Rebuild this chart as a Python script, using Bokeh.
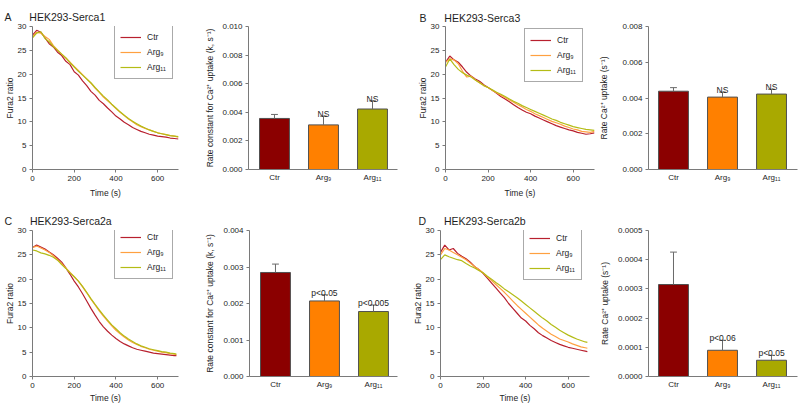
from bokeh.plotting import figure
from bokeh.layouts import column, row
from bokeh.models import Label, Legend, LegendItem, FixedTicker, NumeralTickFormatter, Range1d
from bokeh.embed import file_html
from bokeh.resources import INLINE

FONT = "Liberation Sans"

# ---------------- data ----------------
time_ab = [0, 20, 40, 60, 80, 100, 120, 140, 160, 180, 200, 220, 240, 260, 280, 300, 320, 340,
           360, 380, 400, 420, 440, 460, 480, 500, 520, 540, 560, 580, 600, 620, 640, 660, 680, 700]
time_cd = [0, 20, 40, 60, 80, 100, 120, 140, 160, 180, 200, 220, 240, 260, 280, 300, 320, 340,
           360, 380, 400, 420, 440, 460, 480, 500, 520, 540, 560, 580, 600, 620, 640, 660, 680, 690]

serca1_ctr = [28.2, 29.2, 28.8, 27.6, 26.4, 25.7, 24.6, 23.9, 22.7, 22.0, 20.5, 19.8, 18.6, 17.6, 16.4, 15.6, 14.5, 13.8,
              12.9, 12.1, 11.2, 10.6, 9.9, 9.4, 8.8, 8.4, 8.0, 7.7, 7.4, 7.2, 7.0, 6.9, 6.8, 6.6, 6.5, 6.4]
serca1_arg9 = [27.8, 28.8, 28.6, 27.9, 27.3, 26.0, 25.1, 24.2, 23.4, 22.5, 21.6, 20.8, 19.9, 19.0, 18.1, 17.1, 16.2, 15.2,
               14.4, 13.6, 12.8, 12.0, 11.3, 10.6, 10.0, 9.4, 9.0, 8.6, 8.3, 8.0, 7.7, 7.5, 7.3, 7.1, 7.0, 6.8]
serca1_arg11 = [27.6, 28.6, 28.9, 27.5, 26.8, 25.8, 25.0, 24.2, 23.4, 22.4, 21.5, 20.6, 19.8, 19.0, 18.2, 17.2, 16.3, 15.4,
                14.6, 13.7, 12.9, 12.1, 11.4, 10.7, 10.1, 9.6, 9.1, 8.7, 8.3, 8.0, 7.7, 7.5, 7.3, 7.1, 7.0, 6.9]

serca3_ctr = [22.5, 23.8, 23.0, 22.5, 21.5, 20.4, 19.6, 19.0, 18.5, 17.8, 17.2, 16.6, 16.0, 15.3, 14.8, 14.2, 13.6, 13.0,
              12.5, 12.0, 11.7, 11.2, 10.8, 10.4, 10.0, 9.6, 9.2, 8.9, 8.6, 8.3, 8.1, 7.8, 7.6, 7.4, 7.5, 7.7]
serca3_arg9 = [22.5, 23.2, 23.0, 22.2, 20.6, 19.4, 19.6, 18.8, 18.2, 17.6, 17.2, 16.6, 16.1, 15.6, 15.1, 14.6, 14.1, 13.6,
               13.1, 12.6, 12.2, 11.7, 11.3, 10.9, 10.5, 10.1, 9.8, 9.5, 9.1, 8.8, 8.5, 8.3, 8.0, 7.9, 7.8, 8.0]
serca3_arg11 = [21.5, 23.2, 22.0, 21.0, 20.3, 19.8, 19.4, 18.8, 18.2, 17.6, 17.2, 16.7, 16.2, 15.8, 15.3, 14.8, 14.3, 13.9,
                13.4, 13.0, 12.6, 12.2, 11.8, 11.4, 11.0, 10.6, 10.3, 9.9, 9.6, 9.3, 9.0, 8.8, 8.6, 8.4, 8.3, 8.2]

serca2a_ctr = [26.5, 27.0, 26.6, 26.2, 25.6, 25.0, 24.3, 23.5, 22.3, 21.0, 19.6, 18.4, 17.0, 15.5, 14.0, 12.6, 11.3, 10.2,
               9.3, 8.5, 7.8, 7.2, 6.7, 6.3, 5.9, 5.6, 5.4, 5.2, 5.0, 4.8, 4.7, 4.6, 4.5, 4.4, 4.3, 4.3]
serca2a_arg9 = [26.5, 26.8, 26.4, 26.0, 25.5, 24.8, 24.0, 23.2, 22.3, 21.4, 20.5, 19.6, 18.4, 17.2, 15.9, 14.7, 13.5, 12.4,
                11.4, 10.4, 9.5, 8.8, 8.1, 7.5, 7.0, 6.6, 6.2, 5.9, 5.6, 5.4, 5.2, 5.0, 4.9, 4.7, 4.6, 4.5]
serca2a_arg11 = [26.0, 25.8, 25.4, 25.2, 24.9, 24.5, 23.9, 23.0, 22.2, 21.3, 20.5, 19.6, 18.5, 17.3, 16.0, 14.8, 13.7, 12.6,
                 11.6, 10.6, 9.8, 9.0, 8.3, 7.7, 7.2, 6.7, 6.3, 6.0, 5.7, 5.5, 5.3, 5.1, 5.0, 4.8, 4.7, 4.6]

serca2b_ctr = [25.5, 27.0, 26.0, 26.3, 25.3, 24.7, 24.2, 23.5, 22.6, 22.0, 21.2, 20.2, 19.2, 18.2, 17.2, 16.2, 15.0, 14.0,
               13.0, 12.0, 11.4, 10.5, 9.8, 9.0, 8.4, 7.9, 7.4, 7.0, 6.6, 6.3, 6.0, 5.8, 5.6, 5.4, 5.2, 5.1]
serca2b_arg9 = [25.0, 26.3, 26.0, 25.5, 25.0, 24.5, 24.0, 23.3, 22.6, 22.0, 21.3, 20.5, 19.7, 18.9, 18.1, 17.3, 16.4, 15.5,
                14.6, 13.8, 13.0, 12.2, 11.4, 10.6, 9.9, 9.3, 8.7, 8.2, 7.7, 7.4, 7.1, 6.7, 6.4, 6.1, 5.9, 5.8]
serca2b_arg11 = [24.0, 25.0, 24.6, 24.3, 24.0, 23.8, 23.2, 22.7, 22.3, 21.8, 21.3, 20.6, 20.0, 19.3, 18.7, 18.0, 17.4, 16.8,
                 16.2, 15.5, 14.8, 14.1, 13.4, 12.7, 12.0, 11.4, 10.7, 10.1, 9.5, 9.0, 8.5, 8.1, 7.7, 7.4, 7.1, 7.0]

groups = ["Ctr", "Arg\u2089", "Arg\u2081\u2081"]
group_pos = [0, 1, 2]

serca1_k = [0.00357, 0.00312, 0.00423]
serca1_err = [0.00028, 0.00061, 0.00057]
serca1_sig = ["", "NS", "NS"]

serca3_k = [0.00438, 0.00405, 0.00422]
serca3_err = [0.00020, 0.00028, 0.00027]
serca3_sig = ["", "NS", "NS"]

serca2a_k = [0.00285, 0.00207, 0.00178]
serca2a_err = [0.00023, 0.00017, 0.00018]
serca2a_sig = ["", "p<0.05", "p<0.005"]

serca2b_k = [0.000315, 0.0000898, 0.0000557]
serca2b_err = [0.000111, 0.0000342, 0.000017]
serca2b_sig = ["", "p<0.06", "p<0.05"]

line_ticks_x = [0, 200, 400, 600]
line_ticks_y = [0, 5, 10, 15, 20, 25, 30]

LINE_COLORS = ["#B8202E", "#FFA040", "#B4BC16"]
BAR_COLORS = ["#8B0000", "#FF8000", "#A9A900"]
AXIS_GRAY = "#7a7a7a"
TXT = "#1e1e1e"
GAP = "\u2003\u2002\u2009"


def style_axes(p):
    for ax in (p.xaxis[0], p.yaxis[0]):
        ax.axis_line_color = AXIS_GRAY
        ax.major_tick_line_color = AXIS_GRAY
        ax.major_tick_out = 3
        ax.major_tick_in = 0
        ax.minor_tick_line_color = None
        ax.major_label_text_font = FONT
        ax.major_label_text_font_size = "8px"
        ax.major_label_text_color = TXT
        ax.major_label_standoff = 3
        ax.axis_label_text_font = FONT
        ax.axis_label_text_font_size = "8.5px"
        ax.axis_label_text_font_style = "normal"
        ax.axis_label_text_color = TXT
    p.grid.visible = False
    p.outline_line_color = None


def line_panel(w, h, bl, br, bt, bb, t, ctr, a9, a11, letter, title, t_off, t_stand, leg_xy,
               yl_stand, xl_stand):
    p = figure(width=w, height=h, min_border_left=bl, min_border_right=br, min_border_top=bt,
               min_border_bottom=bb, x_range=Range1d(0, 700), y_range=Range1d(0, 30),
               output_backend="svg", toolbar_location=None)
    rs = []
    for ys, c in zip((ctr, a9, a11), LINE_COLORS):
        rs.append(p.line(t, ys, line_color=c, line_width=1.2))
    style_axes(p)
    p.xaxis.ticker = FixedTicker(ticks=line_ticks_x)
    p.yaxis.ticker = FixedTicker(ticks=line_ticks_y)
    p.xaxis.axis_label = "Time (s)"
    p.yaxis.axis_label = "Fura2 ratio"
    p.xaxis.axis_label_standoff = xl_stand
    p.yaxis.axis_label_standoff = yl_stand
    leg = Legend(items=[LegendItem(label=g, renderers=[r]) for g, r in zip(groups, rs)],
                 location=leg_xy, margin=0, padding=5, spacing=3, glyph_width=21, glyph_height=12,
                 label_height=12, label_standoff=6, label_text_font=FONT, label_text_font_size="8.5px",
                 label_text_color=TXT, border_line_color="#555555", border_line_width=1,
                 background_fill_color="white", background_fill_alpha=1)
    p.add_layout(leg)
    p.title.text = letter + GAP + title
    p.title.align = "left"
    p.title.offset = t_off
    p.title.standoff = t_stand
    p.title.text_font = FONT
    p.title.text_font_size = "10.5px"
    p.title.text_font_style = "normal"
    p.title.text_color = TXT
    return p


def bar_panel(w, h, bl, br, bt, bb, x0, x1, ymax, yticks, fmt, vals, errs, sigs, ylabel, yl_stand):
    p = figure(width=w, height=h, min_border_left=bl, min_border_right=br, min_border_top=bt,
               min_border_bottom=bb, x_range=Range1d(x0, x1), y_range=Range1d(0, ymax),
               output_backend="svg", toolbar_location=None)
    p.vbar(x=group_pos, top=vals, width=0.61, bottom=0, fill_color=BAR_COLORS,
           line_color="#505050", line_width=1)
    tops = [v + e for v, e in zip(vals, errs)]
    p.segment(x0=group_pos, y0=vals, x1=group_pos, y1=tops, line_color="#6a6a6a", line_width=1)
    p.segment(x0=[g - 0.07 for g in group_pos], y0=tops, x1=[g + 0.07 for g in group_pos], y1=tops,
              line_color="#6a6a6a", line_width=1)
    for g, tp, s in zip(group_pos, tops, sigs):
        if s:
            p.add_layout(Label(x=g, y=tp, y_offset=2, text=s, text_align="center",
                               text_baseline="alphabetic", text_font=FONT, text_font_size="8.5px",
                               text_color=TXT))
    style_axes(p)
    p.xaxis.ticker = FixedTicker(ticks=group_pos)
    p.xaxis.major_label_overrides = {0: groups[0], 1: groups[1], 2: groups[2]}
    p.xaxis.major_tick_out = 0
    p.yaxis.ticker = FixedTicker(ticks=yticks)
    p.yaxis.formatter = NumeralTickFormatter(format=fmt)
    p.yaxis.axis_label = ylabel
    p.yaxis.axis_label_standoff = yl_stand
    return p


ylab_long = "Rate constant for Ca\u00b2\u207a uptake (k, s\u207b\u00b9)"
ylab_short = "Rate Ca\u00b2\u207a uptake (s\u207b\u00b9)"

# row 1 (height 200)
pA = line_panel(190, 200, 32, 12, 26, 27, time_ab, serca1_ctr, serca1_arg9, serca1_arg11,
                "A", "HEK293-Serca1", -28, 8, (82, 90), 0, 4)
pAb = bar_panel(210, 200, 58, 3, 23, 30, -0.53, 2.51, 0.010,
                [0.0, 0.002, 0.004, 0.006, 0.008, 0.010], "0.000",
                serca1_k, serca1_err, serca1_sig, ylab_long, 4)
pB = line_panel(195, 200, 45, 1, 23, 30, time_ab, serca3_ctr, serca3_arg9, serca3_arg11,
                "B", "HEK293-Serca3", -26, 5, (79, 87), 0, 4)
pBb = bar_panel(204, 200, 53, 2, 23, 30, -0.51, 2.53, 0.008,
                [0.0, 0.002, 0.004, 0.006, 0.008], "0.000",
                serca3_k, serca3_err, serca3_sig, ylab_short, 10)

# row 2 (height 208)
pC = line_panel(190, 208, 32, 12, 29, 31, time_cd, serca2a_ctr, serca2a_arg9, serca2a_arg11,
                "C", "HEK293-Serca2a", -28, 8, (82, 97), 0, 2)
pCb = bar_panel(210, 208, 59, 3, 28, 32, -0.53, 2.49, 0.004,
                [0.0, 0.001, 0.002, 0.003, 0.004], "0.000",
                serca2a_k, serca2a_err, serca2a_sig, ylab_long, 5)
pD = line_panel(195, 208, 40, 6, 30, 30, time_cd, serca2b_ctr, serca2b_arg9, serca2b_arg11,
                "D", "HEK293-Serca2b", -22, 7, (83, 96), 0, 2)
pDb = bar_panel(204, 208, 53, 2, 29, 32, -0.51, 2.53, 0.0005,
                [0.0, 0.0001, 0.0002, 0.0003, 0.0004, 0.0005], "0.0000",
                serca2b_k, serca2b_err, serca2b_sig, ylab_short, 5)

layout = column(row(pA, pAb, pB, pBb, spacing=0), row(pC, pCb, pD, pDb, spacing=0), spacing=0)

open("out.html", "w").write(file_html(layout, INLINE))
